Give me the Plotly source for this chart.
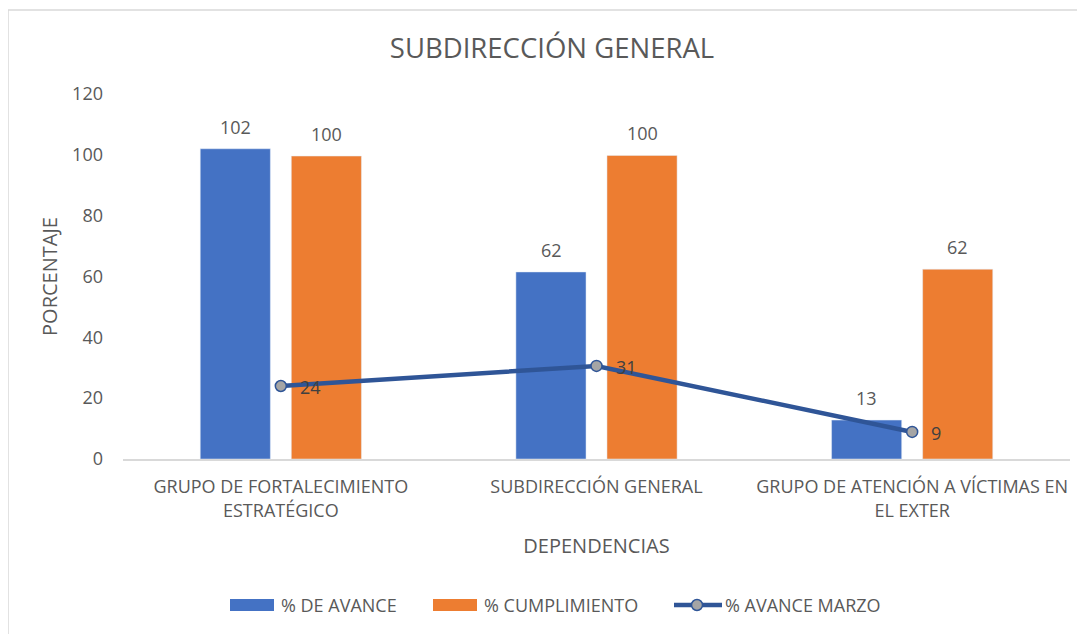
import plotly.graph_objects as go

categories = ["GRUPO DE FORTALECIMIENTO<br>ESTRATÉGICO", "SUBDIRECCIÓN GENERAL",
              "GRUPO DE ATENCIÓN A VÍCTIMAS EN<br>EL EXTER"]
avance = [102, 61.5, 12.8]
cumplimiento = [99.6, 99.8, 62.4]
avance_marzo = [24, 30.6, 8.9]
series_names = ["% DE AVANCE", "% CUMPLIMIENTO", "% AVANCE MARZO"]

W, H = 1085, 634
OFF = 8  # page offset of the figure in the browser
ml, mr, mt, mb = 115, 23, 86, 183
pw, ph = W - ml - mr, H - mt - mb
FONT = "Open Sans"
GRAY = "#595959"
BLUE, ORANGE, LINE = "#4472C4", "#ED7D31", "#2F5597"


def px(p):  # page x -> paper
    return (p - OFF - ml) / pw


def py(p):  # page y -> paper
    return (H - mb - (p - OFF)) / ph


fig = go.Figure()
fig.add_trace(go.Bar(x=categories, y=avance, name=series_names[0], marker_color=BLUE))
fig.add_trace(go.Bar(x=categories, y=cumplimiento, name=series_names[1], marker_color=ORANGE))
fig.add_trace(go.Scatter(x=categories, y=avance_marzo, name=series_names[2], mode="lines+markers",
                         line=dict(color=LINE, width=4.5),
                         marker=dict(size=11, color="#A5A5A5", line=dict(color=LINE, width=1.5)),
                         cliponaxis=False))

# data labels
for c, v in zip(categories, avance):
    fig.add_annotation(x=c, y=v, text=f"{v:.0f}", showarrow=False, xshift=-45.5, yshift=8,
                       yanchor="bottom", font=dict(size=18, color=GRAY))
for c, v in zip(categories, cumplimiento):
    fig.add_annotation(x=c, y=v, text=f"{v:.0f}", showarrow=False, xshift=45.5, yshift=8,
                       yanchor="bottom", font=dict(size=18, color=GRAY))
for c, v in zip(categories, avance_marzo):
    fig.add_annotation(x=c, y=v, text=f"{v:.0f}", showarrow=False, xshift=17, yshift=-1,
                       xanchor="left", yanchor="middle", font=dict(size=18, color="#404040"))

# chart border
fig.add_shape(type="rect", xref="paper", yref="paper",
              x0=px(8), x1=px(1110), y0=py(660), y1=py(10),
              line=dict(color="#D9D9D9", width=1.5), fillcolor="rgba(0,0,0,0)", layer="below")

# custom legend
ly = 605
fig.add_shape(type="rect", xref="paper", yref="paper", x0=px(230), x1=px(274), y0=py(611), y1=py(599),
              fillcolor=BLUE, line_width=0)
fig.add_shape(type="rect", xref="paper", yref="paper", x0=px(433), x1=px(477), y0=py(611), y1=py(599),
              fillcolor=ORANGE, line_width=0)
fig.add_shape(type="line", xref="paper", yref="paper", x0=px(674), x1=px(722), y0=py(ly), y1=py(ly),
              line=dict(color=LINE, width=4.5))
fig.add_shape(type="circle", xref="paper", yref="paper", x0=px(691.5), x1=px(702.5), y0=py(610.5), y1=py(599.5),
              fillcolor="#A5A5A5", line=dict(color=LINE, width=1.5))
for xx, name in zip([279, 482, 723], series_names):
    fig.add_annotation(xref="paper", yref="paper", x=px(xx), y=py(ly), text=name, showarrow=False,
                       xanchor="left", yanchor="middle", font=dict(size=18, color=GRAY))

fig.update_layout(
    width=W, height=H,
    margin=dict(l=ml, r=mr, t=mt, b=mb),
    paper_bgcolor="white", plot_bgcolor="white",
    font=dict(family=FONT, color=GRAY, size=18),
    title=dict(text="SUBDIRECCIÓN GENERAL", x=(552 - OFF) / W, xanchor="center",
               y=1 - (48 - OFF) / H, yanchor="middle",
               font=dict(size=27.5, color=GRAY, family=FONT)),
    barmode="group", bargap=0.423, bargroupgap=0.23,
    showlegend=False,
    xaxis=dict(showline=True, linecolor="#D9D9D9", linewidth=1.5, ticks="", showgrid=False,
               tickfont=dict(size=18, color=GRAY), ticklabelstandoff=11,
               title=dict(text="DEPENDENCIAS", font=dict(size=20, color=GRAY), standoff=18)),
    yaxis=dict(range=[0, 120], dtick=20, showgrid=False, zeroline=False, showline=False,
               ticks="", ticklabelstandoff=19, tickfont=dict(size=18, color=GRAY),
               title=dict(text="PORCENTAJE", font=dict(size=20, color=GRAY), standoff=9)),
)

fig.write_html("out.html")
